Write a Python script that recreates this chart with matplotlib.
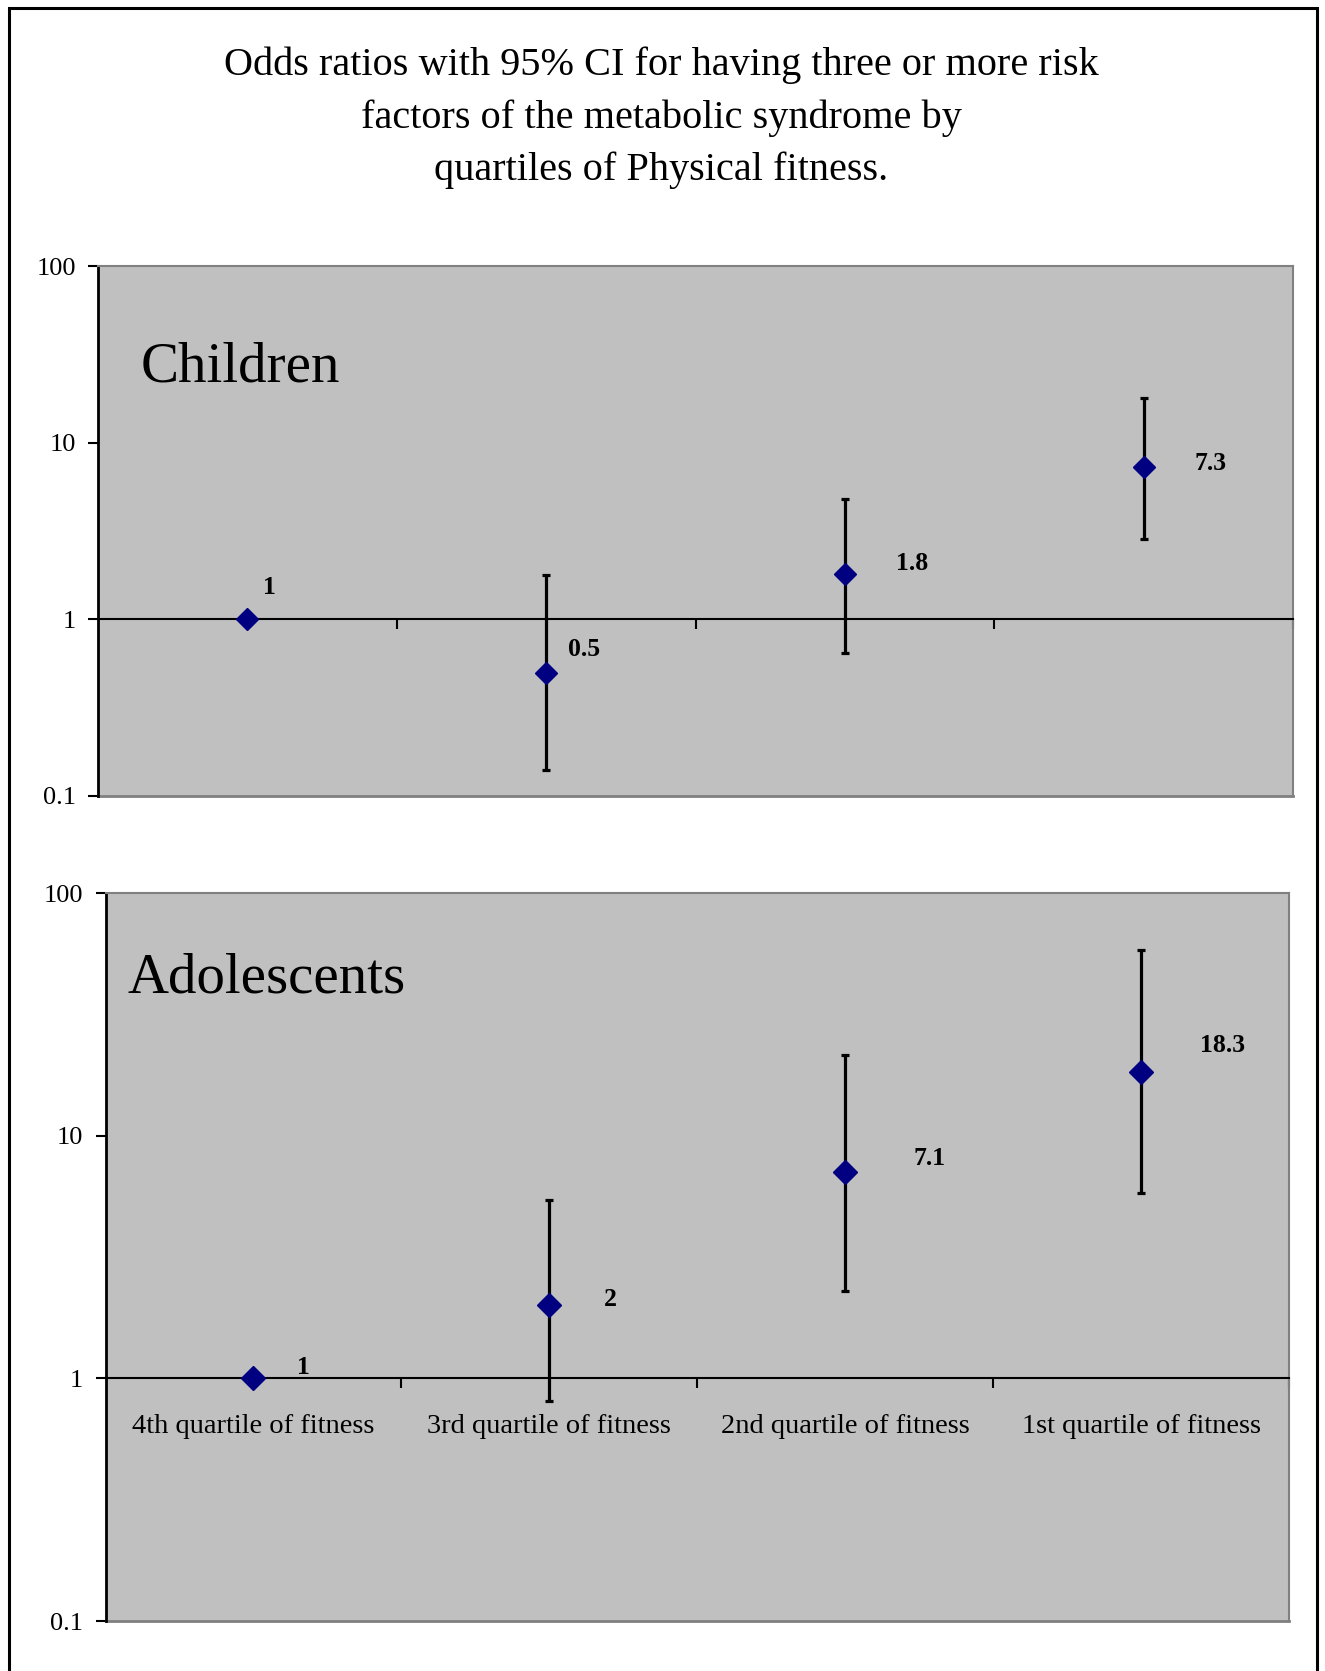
import matplotlib.pyplot as plt
from matplotlib.patches import Rectangle

plt.rcParams['font.family'] = ['Liberation Serif', 'DejaVu Serif']

categories = ["4th quartile of fitness", "3rd quartile of fitness",
              "2nd quartile of fitness", "1st quartile of fitness"]

# odds ratios and 95% CI
children_or = [1.0, 0.5, 1.8, 7.3]
children_lo = [1.0, 0.14, 0.65, 2.87]
children_hi = [1.0, 1.79, 4.8, 17.9]
children_labels = ["1", "0.5", "1.8", "7.3"]

adol_or = [1.0, 2.0, 7.1, 18.3]
adol_lo = [1.0, 0.81, 2.29, 5.81]
adol_hi = [1.0, 5.41, 21.6, 58.3]
adol_labels = ["1", "2", "7.1", "18.3"]

yticks = [0.1, 1, 10, 100]
ytick_labels = ["0.1", "1", "10", "100"]

title = ("Odds ratios with 95% CI for having three or more risk\n"
         "factors of the metabolic syndrome by\n"
         "quartiles of Physical fitness.")

# label offsets in pixels (dx, dy)
children_offsets = [(22, 32), (38, 23), (67, 11), (67, 4)]
adol_offsets = [(50, 11), (61, 6), (84, 13), (82, 26)]

fig = plt.figure(figsize=(13.25, 16.71), dpi=100)

# outer frame
fig.patches.append(Rectangle((8.5 / 1325, -0.02), (1317 - 8.5) / 1325, 1.02 - 7.5 / 1671,
                             transform=fig.transFigure, fill=False,
                             edgecolor="black", linewidth=2.2))

fig.text(0.499, 1 - 118 / 1671, title, ha="center", va="center",
         fontsize=29, linespacing=1.52)

ax1 = fig.add_axes([98 / 1325, 1 - 796 / 1671, 1195 / 1325, 529.5 / 1671])
ax2 = fig.add_axes([105.5 / 1325, 1 - 1621 / 1671, 1183.5 / 1325, 728 / 1671])


def draw(ax, ors, lo, hi, labels, offsets, name, name_xy, ms, show_cats):
    x = list(range(1, len(ors) + 1))
    ax.set_facecolor("#C0C0C0")
    ax.set_yscale("log")
    ax.set_ylim(0.1, 100)
    ax.set_xlim(0.5, 4.5)
    yerr = [[o - l for o, l in zip(ors, lo)], [h - o for o, h in zip(ors, hi)]]
    ax.errorbar(x, ors, yerr=yerr, fmt="none", ecolor="black",
                elinewidth=2.3, capsize=3, capthick=2.3, zorder=3)
    ax.plot(x, ors, linestyle="none", marker="D", markersize=ms,
            color="#000080", zorder=4)
    for xi, yi, lab, off in zip(x, ors, labels, offsets):
        ax.annotate(lab, (xi, yi), xytext=off, textcoords="offset pixels",
                    ha="center", va="center", fontsize=18.5, fontweight="bold")

    # y axis
    ax.set_yticks(yticks)
    ax.set_yticklabels(ytick_labels, fontsize=19)
    ax.minorticks_off()
    ax.tick_params(axis="y", direction="out", length=7, width=1.5, pad=9)
    ax.spines["left"].set_linewidth(2)
    for s in ["top", "right"]:
        ax.spines[s].set_color("#808080")
        ax.spines[s].set_linewidth(1.5)

    # x axis crosses at 1
    ax.spines["bottom"].set_position(("data", 1))
    ax.spines["bottom"].set_linewidth(1.5)
    ax.set_xticks([1.5, 2.5, 3.5, 4.5])
    ax.set_xticklabels([])
    ax.tick_params(axis="x", which="major", direction="out", length=7, width=1.5)
    if show_cats:
        ax.set_xticks(x, minor=True)
        ax.set_xticklabels(categories, minor=True, fontsize=20.5)
        ax.tick_params(axis="x", which="minor", length=0, pad=26)
    ax.axhline(0.1, color="#808080", linewidth=2, clip_on=False)

    ax.text(name_xy[0], name_xy[1], name, transform=ax.transAxes,
            fontsize=41, ha="left", va="center")


draw(ax1, children_or, children_lo, children_hi, children_labels,
     children_offsets, "Children", (0.036, 0.81), 11, False)
draw(ax2, adol_or, adol_lo, adol_hi, adol_labels,
     adol_offsets, "Adolescents", (0.019, 0.883), 12, True)

fig.savefig("out.png", dpi=100)
